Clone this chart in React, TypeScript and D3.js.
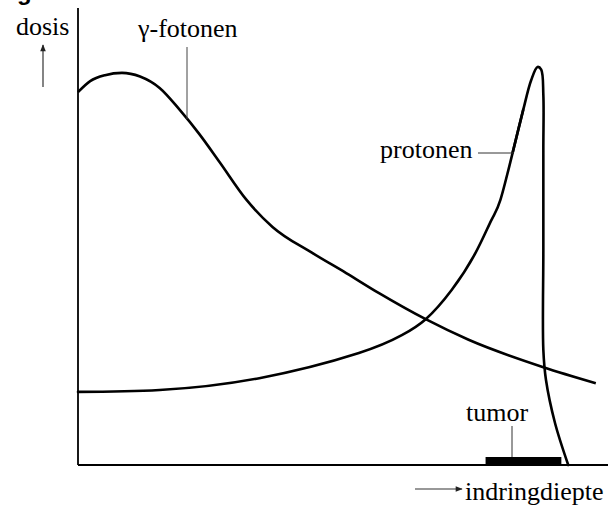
import React from "react";
import * as d3 from "d3";

// depth (arbitrary units 0-100), dose (relative 0-100)
const gammaDepth = [0, 2.3, 5.1, 8.3, 11.7, 15.4, 19.2, 22.9, 26.7, 31.8, 36.7, 44.2, 50.6, 56.8, 65.6, 73.7, 87.8, 97.7];
const gammaDose = [81.6, 84.0, 85.3, 85.8, 85.0, 82.5, 77.7, 72.4, 66.3, 58.0, 52.1, 46.4, 42.0, 37.6, 31.9, 27.4, 21.4, 17.9];

// proton curve: rising part up to the Bragg peak, then the distal fall-off
const protonDepth = [0, 15.4, 34.2, 53.0, 61.1, 65.6, 70.5, 75.0, 78.0, 79.7, 82.0, 84.0, 85.5, 86.7, 87.4, 87.8, 87.8, 87.8, 87.8, 88.3, 90.0, 92.5];
const protonDose = [16.0, 16.4, 19.0, 24.5, 28.4, 31.9, 38.3, 46.4, 53.6, 58.0, 68.3, 77.7, 84.2, 87.1, 86.5, 81.0, 68.9, 47.0, 25.2, 18.6, 9.2, 0];

const tumorRange = [76.9, 91.2];

const labels = {
  yAxis: "dosis",
  xAxis: "indringdiepte",
  gamma: "γ-fotonen",
  proton: "protonen",
  tumor: "tumor",
};

const W = 615;
const H = 506;

export default function App() {
  const x = d3.scaleLinear().domain([0, 100]).range([78, 608]);
  const y = d3.scaleLinear().domain([0, 100]).range([465, 8]);

  const mk = (curve: d3.CurveFactory) =>
    d3
      .line<[number, number]>()
      .x((d) => x(d[0]))
      .y((d) => y(d[1]))
      .curve(curve);
  const lineX = mk(d3.curveMonotoneX);
  const lineN = mk(d3.curveNatural);
  const lineCR = mk(d3.curveCatmullRom.alpha(0.5));

  const gammaPts: [number, number][] = gammaDepth.map((d, i) => [d, gammaDose[i]]);
  const protonPts: [number, number][] = protonDepth.map((d, i) => [d, protonDose[i]]);
  const split = protonDepth.indexOf(84.0); // rise handled by a natural spline up to here
  const risePts = protonPts.slice(0, split + 1);
  const tipPts = protonPts.slice(split - 1);

  const ts: React.CSSProperties = { fontFamily: "Liberation Serif", fontSize: 26 };

  return (
    <svg
      width={W}
      height={H}
      viewBox={`0 0 ${W} ${H}`}
      style={{ position: "absolute", left: 0, top: 0, background: "#fff" }}
    >
      <defs>
        <marker id="ah" viewBox="0 0 10 10" refX="9" refY="5" markerWidth="9" markerHeight="7" markerUnits="userSpaceOnUse" orient="auto">
          <path d="M0,1 L10,5 L0,9 Z" fill="#222" />
        </marker>
      </defs>
      {/* clipped title remnant */}
      <text x={17} y={0} style={{ fontFamily: "Liberation Sans", fontWeight: "bold", fontSize: 24 }} fill="#000">
        g
      </text>

      {/* axes */}
      <line x1={x(0)} x2={x(0)} y1={y(0)} y2={y(100)} stroke="#000" strokeWidth={1.8} />
      <line x1={x(0)} x2={x(100)} y1={y(0)} y2={y(0)} stroke="#000" strokeWidth={1.8} />

      {/* axis labels with arrows */}
      <text x={16} y={35} style={ts} fill="#000">
        {labels.yAxis}
      </text>
      <line x1={43} x2={43} y1={87} y2={45} stroke="#333" strokeWidth={1.2} markerEnd="url(#ah)" />
      <text x={465} y={500} style={ts} fill="#000">
        {labels.xAxis}
      </text>
      <line x1={415} x2={462} y1={489} y2={489} stroke="#333" strokeWidth={1.2} markerEnd="url(#ah)" />

      {/* tumor */}
      <rect
        x={x(tumorRange[0])}
        y={y(0) - 8}
        width={x(tumorRange[1]) - x(tumorRange[0])}
        height={8}
        fill="#000"
      />
      <line x1={512} x2={512} y1={426} y2={y(0) - 8} stroke="#333" strokeWidth={1} />
      <text x={466} y={421} style={ts} fill="#000">
        {labels.tumor}
      </text>

      {/* curves */}
      <path d={lineX(gammaPts) || ""} fill="none" stroke="#000" strokeWidth={2.6} />
      <path d={lineN(risePts) || ""} fill="none" stroke="#000" strokeWidth={2.6} strokeLinecap="round" />
      <path d={lineCR(tipPts) || ""} fill="none" stroke="#000" strokeWidth={2.6} strokeLinecap="round" />

      {/* curve labels */}
      <text x={138} y={37} style={ts} fill="#000">
        {labels.gamma}
      </text>
      <line x1={187} x2={187} y1={47} y2={119} stroke="#444" strokeWidth={1} />
      <text x={380} y={158} style={ts} fill="#000">
        {labels.proton}
      </text>
      <line x1={478} x2={514} y1={153} y2={153} stroke="#333" strokeWidth={1} />
    </svg>
  );
}
